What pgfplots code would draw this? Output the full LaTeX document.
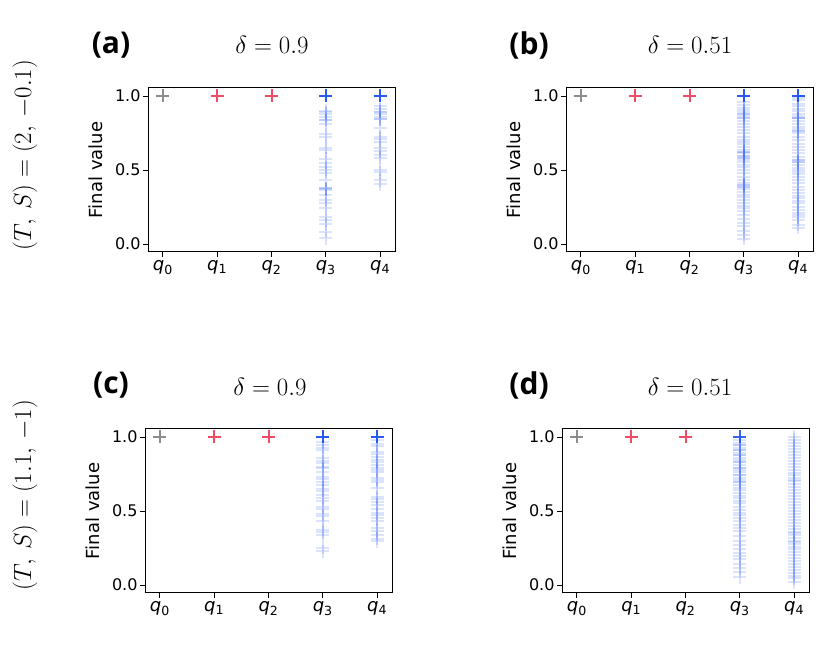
\documentclass[border=0pt]{standalone}
\usepackage{fontspec}
\setmainfont{DejaVu Sans}
\newfontfamily\boldsans{Open Sans}
\usepackage{pgfplots}
\pgfplotsset{compat=1.18}
\definecolor{qgray}{RGB}{128,128,128}
\definecolor{qred}{RGB}{238,56,88}
\definecolor{qblue}{RGB}{30,82,245}
\newcommand{\qlab}[1]{\textit{q}\textsubscript{#1}}
\pgfplotsset{
 panel/.style={scale only axis, width=247pt, height=164pt,
  xmin=-0.275, xmax=4.275, ymin=-0.054, ymax=1.054,
  xtick={0,1,2,3,4}, xticklabels={\qlab{0},\qlab{1},\qlab{2},\qlab{3},\qlab{4}},
  ytick={0,0.5,1}, yticklabels={0.0,0.5,1.0},
  tick align=outside, xtick pos=bottom, ytick pos=left,
  major tick length=5pt,
  tick style={black, line width=0.9pt},
  axis line style={line width=1pt},
  yticklabel style={font=\fontsize{16}{18}\selectfont, xshift=1pt},
  xticklabel style={font=\fontsize{18}{20}\selectfont},
  ylabel={Final value},
  ylabel style={font=\fontsize{18}{20}\selectfont, at={(axis description cs:-0.21,0.5)}, anchor=center},
 },
 faint/.style={only marks, mark=+, mark size=6.5pt, color=qblue, line width=2pt, opacity=0.16},
 solidp/.style={only marks, mark=+, mark size=6.5pt, line width=2pt, opacity=0.9},
}
\newcommand{\fixed}{%
 \addplot[solidp, color=qgray] coordinates {(0,1)};
 \addplot[solidp, color=qred] coordinates {(1,1) (2,1)};
}
\begin{document}
\begin{tikzpicture}
\useasboundingbox (0,0) rectangle (830pt,645pt);
% ---------------- (a)
\begin{axis}[panel, at={(148pt,393pt)}, anchor=south west]
\fixed
\addplot[faint] table[row sep=\\, header=false, x expr=3, y index=0]{
1.0\\1.0\\1.0\\1.0\\1.0\\0.90\\0.89\\0.88\\0.86\\0.84\\0.835\\0.81\\0.74\\0.72\\0.65\\0.635\\0.575\\0.55\\0.52\\0.50\\0.48\\0.43\\0.376\\0.376\\0.37\\0.365\\0.33\\0.30\\0.275\\0.245\\0.185\\0.16\\0.135\\0.083\\0.04\\};
\addplot[faint] table[row sep=\\, header=false, x expr=4, y index=0]{
1.0\\1.0\\1.0\\1.0\\1.0\\0.93\\0.91\\0.895\\0.895\\0.876\\0.856\\0.842\\0.842\\0.786\\0.725\\0.71\\0.69\\0.646\\0.628\\0.60\\0.583\\0.50\\0.484\\0.432\\0.403\\};
\addplot[solidp, color=qblue] coordinates {(3,1) (4,1)};
\end{axis}
% ---------------- (b)
\begin{axis}[panel, at={(566pt,393pt)}, anchor=south west]
\fixed
\addplot[faint] table[row sep=\\, header=false, x expr=3, y index=0]{
1.0\\1.0\\1.0\\1.0\\0.96\\0.937\\0.919\\0.904\\0.893\\0.881\\0.881\\0.866\\0.848\\0.848\\0.830\\0.81\\0.792\\0.769\\0.747\\0.724\\0.705\\0.691\\0.675\\0.657\\0.635\\0.623\\0.623\\0.612\\0.596\\0.596\\0.583\\0.583\\0.567\\0.552\\0.534\\0.52\\0.500\\0.478\\0.455\\0.433\\0.410\\0.399\\0.399\\0.388\\0.388\\0.372\\0.354\\0.332\\0.315\\0.298\\0.280\\0.260\\0.242\\0.220\\0.197\\0.17\\0.141\\0.119\\0.085\\0.063\\0.035\\};
\addplot[faint] table[row sep=\\, header=false, x expr=4, y index=0]{
1.0\\1.0\\1.0\\1.0\\0.985\\0.971\\0.949\\0.933\\0.915\\0.897\\0.881\\0.866\\0.848\\0.848\\0.848\\0.830\\0.814\\0.792\\0.780\\0.762\\0.762\\0.747\\0.724\\0.702\\0.679\\0.657\\0.635\\0.612\\0.590\\0.567\\0.567\\0.552\\0.552\\0.534\\0.511\\0.497\\0.484\\0.470\\0.455\\0.433\\0.410\\0.388\\0.365\\0.343\\0.325\\0.309\\0.290\\0.276\\0.253\\0.231\\0.210\\0.197\\0.180\\0.164\\0.130\\0.110\\};
\addplot[solidp, color=qblue] coordinates {(3,1) (4,1)};
\end{axis}
% ---------------- (c)
\begin{axis}[panel, at={(145pt,52pt)}, anchor=south west]
\fixed
\addplot[faint] table[row sep=\\, header=false, x expr=3, y index=0]{
1.0\\1.0\\1.0\\1.0\\0.966\\0.944\\0.926\\0.911\\0.855\\0.837\\0.821\\0.799\\0.788\\0.765\\0.732\\0.716\\0.698\\0.676\\0.649\\0.636\\0.609\\0.591\\0.568\\0.530\\0.515\\0.479\\0.463\\0.43\\0.374\\0.358\\0.34\\0.251\\0.228\\};
\addplot[faint] table[row sep=\\, header=false, x expr=4, y index=0]{
1.0\\1.0\\1.0\\1.0\\0.978\\0.956\\0.94\\0.9\\0.882\\0.866\\0.844\\0.828\\0.81\\0.788\\0.777\\0.765\\0.721\\0.709\\0.694\\0.654\\0.597\\0.582\\0.56\\0.542\\0.515\\0.486\\0.47\\0.452\\0.43\\0.385\\0.367\\0.34\\0.313\\0.295\\};
\addplot[solidp, color=qblue] coordinates {(3,1) (4,1)};
\end{axis}
% ---------------- (d)
\begin{axis}[panel, at={(562pt,52pt)}, anchor=south west]
\fixed
\addplot[faint] table[row sep=\\, header=false, x expr=3, y index=0]{
1.0\\1.0\\1.0\\1.0\\0.978\\0.962\\0.944\\0.944\\0.926\\0.911\\0.911\\0.895\\0.877\\0.877\\0.859\\0.844\\0.828\\0.828\\0.810\\0.792\\0.792\\0.777\\0.761\\0.743\\0.743\\0.725\\0.709\\0.694\\0.694\\0.676\\0.658\\0.642\\0.620\\0.604\\0.586\\0.568\\0.553\\0.530\\0.508\\0.486\\0.470\\0.452\\0.430\\0.407\\0.385\\0.363\\0.329\\0.30\\0.273\\0.246\\0.217\\0.195\\0.173\\0.143\\0.117\\0.090\\0.054\\};
\addplot[faint] table[row sep=\\, header=false, x expr=4, y index=0]{
1.0\\0.98\\0.96\\0.94\\0.92\\0.90\\0.88\\0.86\\0.84\\0.82\\0.80\\0.78\\0.76\\0.74\\0.72\\0.71\\0.70\\0.68\\0.66\\0.64\\0.62\\0.60\\0.58\\0.56\\0.54\\0.52\\0.50\\0.48\\0.46\\0.44\\0.42\\0.40\\0.38\\0.36\\0.35\\0.34\\0.32\\0.30\\0.29\\0.28\\0.26\\0.24\\0.22\\0.20\\0.18\\0.16\\0.14\\0.12\\0.10\\0.08\\0.06\\0.045\\0.02\\};
\addplot[solidp, color=qblue, opacity=0.8] coordinates {(3,1)};
\end{axis}
% ---------------- titles
\node[font=\boldsans\bfseries\fontsize{30}{34}\selectfont] at (111pt,600pt) {(a)};
\node[font=\boldsans\bfseries\fontsize{30}{34}\selectfont] at (529pt,600pt) {(b)};
\node[font=\boldsans\bfseries\fontsize{30}{34}\selectfont] at (111pt,260pt) {(c)};
\node[font=\boldsans\bfseries\fontsize{30}{34}\selectfont] at (529pt,260pt) {(d)};
\node[font=\fontsize{28}{32}\selectfont] at (272pt,600pt) {$\delta = 0.9$};
\node[font=\fontsize{28}{32}\selectfont] at (690pt,600pt) {$\delta = 0.51$};
\node[font=\fontsize{28}{32}\selectfont] at (270pt,258pt) {$\delta = 0.9$};
\node[font=\fontsize{28}{32}\selectfont] at (690pt,258pt) {$\delta = 0.51$};
\node[font=\fontsize{28}{32}\selectfont, rotate=90] at (25pt,490pt) {$(T,\,S) = (2,\,-0.1)$};
\node[font=\fontsize{28}{32}\selectfont, rotate=90] at (25pt,150pt) {$(T,\,S) = (1.1,\,-1)$};
\end{tikzpicture}
\end{document}
